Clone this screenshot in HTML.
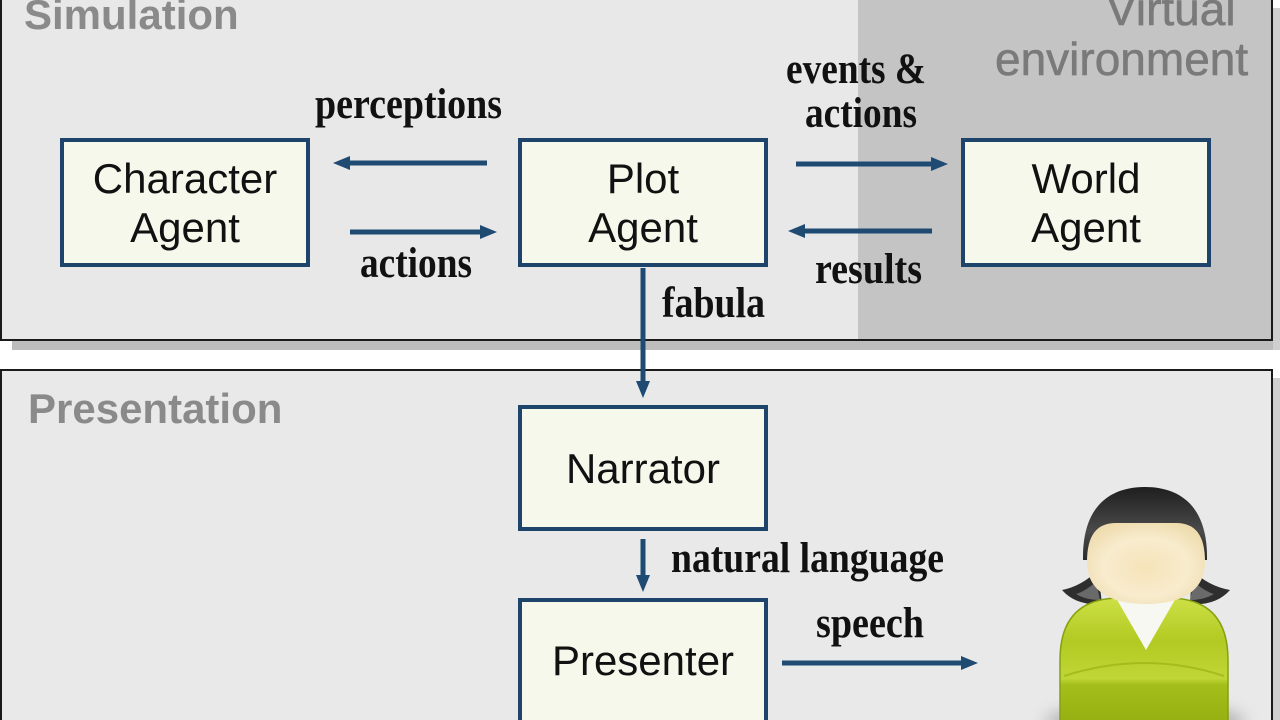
<!DOCTYPE html>
<html><head><meta charset="utf-8"><style>
html,body{margin:0;padding:0;background:#fff;}
body{width:1280px;height:720px;overflow:hidden;position:relative;}
svg{position:absolute;left:0;top:0;}
.bx{font-family:"Liberation Sans",Arial,sans-serif;font-size:42px;fill:#111;}
.lb{font-family:"Liberation Serif","Times New Roman",serif;font-weight:bold;font-size:43px;fill:#111;}
</style></head><body>
<svg width="1280" height="720" viewBox="0 0 1280 720" xmlns="http://www.w3.org/2000/svg">
<defs>
<linearGradient id="hair" x1="0" y1="0" x2="0" y2="1">
<stop offset="0" stop-color="#1e1e1e"/><stop offset="0.6" stop-color="#4a4a4a"/><stop offset="1" stop-color="#2a2a2a"/>
</linearGradient>
<radialGradient id="face" cx="0.5" cy="0.55" r="0.6">
<stop offset="0" stop-color="#f6e3b8"/><stop offset="0.6" stop-color="#f8ecce"/><stop offset="1" stop-color="#efdcae"/>
</radialGradient>
<linearGradient id="body" x1="0" y1="0" x2="0" y2="1">
<stop offset="0" stop-color="#cde046"/><stop offset="0.35" stop-color="#b2ca22"/><stop offset="0.65" stop-color="#c0d636"/><stop offset="0.7" stop-color="#a4be1a"/><stop offset="1" stop-color="#96b012"/>
</linearGradient>
<filter id="blur" x="-50%" y="-50%" width="200%" height="200%"><feGaussianBlur stdDeviation="8"/></filter>
</defs>

<!-- top panel shadows -->
<rect x="12" y="341" width="1268" height="9" fill="#bdbdbd"/>
<rect x="1273" y="8" width="7" height="342" fill="#cfcfcf"/>
<!-- top panel -->
<rect x="0" y="-10" width="1273" height="351" fill="#1a1a1a"/>
<rect x="2" y="-10" width="1269" height="349" fill="#e8e8e8"/>
<rect x="858" y="-10" width="413" height="349" fill="#c4c4c4"/>

<!-- bottom panel -->
<rect x="1273" y="378" width="7" height="342" fill="#cfcfcf"/>
<rect x="0" y="369" width="1273" height="360" fill="#1a1a1a"/>
<rect x="2" y="371" width="1269" height="360" fill="#e9e9e9"/>

<!-- titles -->
<text x="24" y="29" font-family="Liberation Sans, Arial, sans-serif" font-weight="bold" font-size="42" fill="#8a8a8a">Simulation</text>
<text x="28" y="423" font-family="Liberation Sans, Arial, sans-serif" font-weight="bold" font-size="42" fill="#8a8a8a">Presentation</text>
<text x="1106" y="25" font-family="Liberation Sans, Arial, sans-serif" font-size="46" fill="#7a7a7a" stroke="#7a7a7a" stroke-width="0.6">Virtual</text>
<text x="995" y="75" font-family="Liberation Sans, Arial, sans-serif" font-size="46" fill="#7a7a7a" stroke="#7a7a7a" stroke-width="0.6">environment</text>

<!-- boxes -->
<g fill="#f6f8ec" stroke="#1e446c" stroke-width="4">
<rect x="62" y="140" width="246" height="125"/>
<rect x="520" y="140" width="246" height="125"/>
<rect x="963" y="140" width="246" height="125"/>
<rect x="520" y="407" width="246" height="122"/>
<rect x="520" y="600" width="246" height="140"/>
</g>
<text class="bx" x="185" y="193" text-anchor="middle">Character</text>
<text class="bx" x="185" y="242" text-anchor="middle">Agent</text>
<text class="bx" x="643" y="193" text-anchor="middle">Plot</text>
<text class="bx" x="643" y="242" text-anchor="middle">Agent</text>
<text class="bx" x="1086" y="193" text-anchor="middle">World</text>
<text class="bx" x="1086" y="242" text-anchor="middle">Agent</text>
<text class="bx" x="643" y="483" text-anchor="middle">Narrator</text>
<text class="bx" x="643" y="675" text-anchor="middle">Presenter</text>

<!-- arrows -->
<g stroke="#1f4a72" stroke-width="5" fill="none">
<line x1="487" y1="163" x2="345" y2="163"/>
<line x1="350" y1="232" x2="485" y2="232"/>
<line x1="796" y1="164" x2="936" y2="164"/>
<line x1="932" y1="231" x2="800" y2="231"/>
<line x1="643" y1="268" x2="643" y2="386"/>
<line x1="643" y1="539" x2="643" y2="580"/>
<line x1="782" y1="663" x2="966" y2="663"/>
</g>
<g fill="#1f4a72">
<polygon points="333,163 350,156 350,170"/>
<polygon points="497,232 480,225 480,239"/>
<polygon points="948,164 931,157 931,171"/>
<polygon points="788,231 805,224 805,238"/>
<polygon points="643,398 636,381 650,381"/>
<polygon points="643,592 636,575 650,575"/>
<polygon points="978,663 961,656 961,670"/>
</g>

<!-- labels -->
<text class="lb" x="315" y="118" textLength="187" lengthAdjust="spacingAndGlyphs">perceptions</text>
<text class="lb" x="360" y="277" textLength="112" lengthAdjust="spacingAndGlyphs">actions</text>
<text class="lb" x="786" y="83" textLength="140" lengthAdjust="spacingAndGlyphs">events &amp;</text>
<text class="lb" x="805" y="127" textLength="112" lengthAdjust="spacingAndGlyphs">actions</text>
<text class="lb" x="815" y="283" textLength="107" lengthAdjust="spacingAndGlyphs">results</text>
<text class="lb" x="662" y="317" textLength="103" lengthAdjust="spacingAndGlyphs">fabula</text>
<text class="lb" x="671" y="572" textLength="273" lengthAdjust="spacingAndGlyphs">natural language</text>
<text class="lb" x="816" y="637" textLength="108" lengthAdjust="spacingAndGlyphs">speech</text>

<!-- person -->
<ellipse cx="1145" cy="722" rx="100" ry="18" fill="#8a8a8a" opacity="0.6" filter="url(#blur)"/>
<path d="M1098,570 Q1082,586 1062,590 Q1076,606 1102,604 Z" fill="#2e2e2e"/>
<path d="M1096,582 Q1084,592 1076,594 Q1086,600 1100,600 Z" fill="#6a6a6a"/>
<path d="M1192,570 Q1208,586 1230,590 Q1216,606 1190,604 Z" fill="#2e2e2e"/>
<path d="M1194,582 Q1206,592 1214,594 Q1204,600 1190,600 Z" fill="#6a6a6a"/>
<path d="M1060,722 L1060,660 Q1060,598 1120,598 L1168,598 Q1228,598 1228,660 L1228,722 Z" fill="url(#body)" stroke="#86a010" stroke-width="1.5"/>
<path d="M1064,676 Q1145,650 1224,676" fill="none" stroke="#9ab414" stroke-width="2" opacity="0.7"/>
<polygon points="1116,598 1176,598 1146,650" fill="#f8f8f2"/>
<path d="M1083,560 C1082,506 1110,487 1145,487 C1180,487 1208,506 1207,560 Z" fill="url(#hair)"/>
<path d="M1087,562 C1087,536 1096,523 1116,523 L1176,523 C1196,523 1205,536 1205,562 C1205,592 1180,604 1146,604 C1112,604 1087,592 1087,562 Z" fill="url(#face)"/>
</svg>
</body></html>
